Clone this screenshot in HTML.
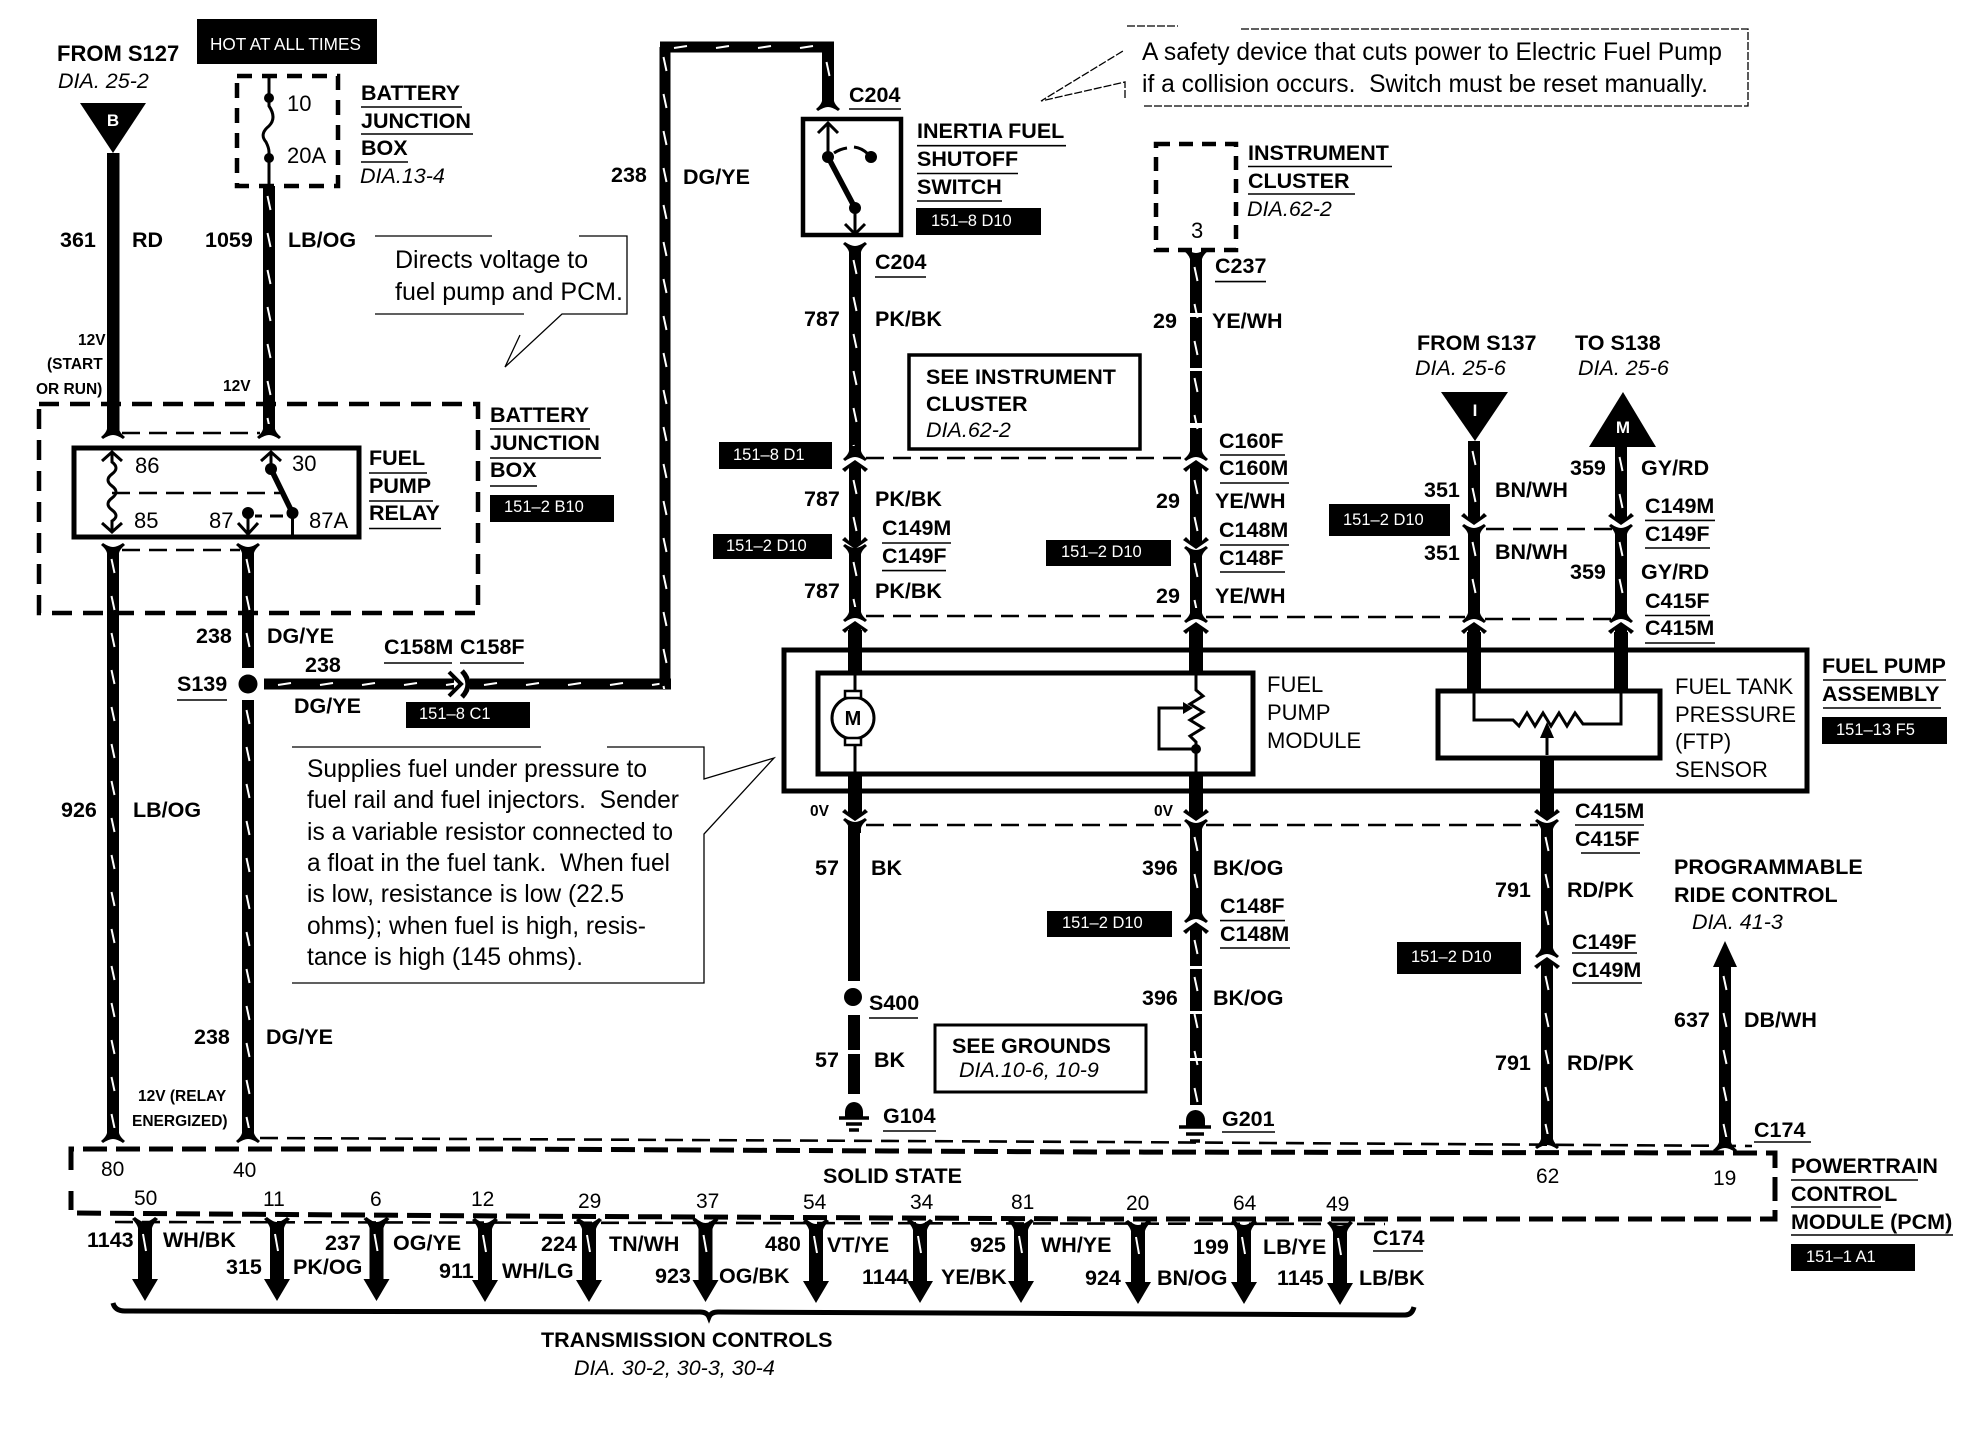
<!DOCTYPE html>
<html><head><meta charset="utf-8"><title>Fuel pump wiring diagram</title>
<style>
html,body{margin:0;padding:0;background:#fff}
svg{display:block}
text{font-family:"Liberation Sans",sans-serif;fill:#000;white-space:pre}
.b{font-weight:bold;font-size:21.5px}
.r{font-size:22px}
.n{font-size:21px}
.i{font-style:italic;font-size:21.5px}
.c{font-size:25px}
.s{font-weight:bold;font-size:15.5px}
.t{font-size:16.5px;fill:#fff}
.h{font-size:17.2px;fill:#fff}
.w{font-weight:bold;font-size:17px;fill:#fff;text-anchor:middle}
.u{fill:none;stroke:#000;stroke-width:1.6}
.th{fill:none;stroke:#000;stroke-width:1.3}
.d1{fill:none;stroke:#000;stroke-width:4.5;stroke-dasharray:20 11}
.d2{fill:none;stroke:#000;stroke-width:2.6;stroke-dasharray:18 9}
.l{fill:none;stroke:#000;stroke-width:3}
.bx{fill:none;stroke:#000;stroke-width:5}
</style></head><body>
<svg xmlns="http://www.w3.org/2000/svg" width="1972" height="1440" viewBox="0 0 1972 1440">
<defs>
<pattern id="v" width="14" height="37" patternUnits="userSpaceOnUse" x="-7" y="0"><rect width="14" height="37" fill="#000"/><line x1="5.5" y1="10" x2="8.5" y2="24" stroke="#fff" stroke-width="2"/></pattern>
<pattern id="z" width="42" height="14" patternUnits="userSpaceOnUse" x="0" y="-7"><rect width="42" height="14" fill="#000"/><line x1="14" y1="8" x2="27" y2="6" stroke="#fff" stroke-width="2"/></pattern>
<path id="f" d="M-6,-8H6V-3Q7,1 12,5L10,7Q4,3 0,3Q-4,3 -10,7L-12,5Q-7,1 -6,-3Z"/>
<path id="a" d="M0,0L13,9L10,12L6,8V14H-6V8L-10,12L-13,9Z"/>
<g id="ar"><path d="M-13,0L-10,-2Q-4,3 0,3Q4,3 10,-2L13,0Q8,5 7,9V60H13L0,82L-13,60H-7V9Q-8,5 -13,0Z"/><line x1="-2" y1="15" x2="1" y2="32" stroke="#fff" stroke-width="2"/></g>
</defs>

<!-- tags -->
<rect x="197" y="19" width="180" height="45"/>
<text class="h" x="210" y="50">HOT AT ALL TIMES</text>
<rect x="490" y="495" width="124" height="27"/><text class="t" x="504" y="512">151–2 B10</text>
<rect x="406" y="702" width="124" height="26"/><text class="t" x="419" y="719">151–8 C1</text>
<rect x="916" y="208" width="125" height="27"/><text class="t" x="931" y="226">151–8 D10</text>
<rect x="719" y="442" width="113" height="27"/><text class="t" x="733" y="460">151–8 D1</text>
<rect x="713" y="534" width="119" height="25"/><text class="t" x="726" y="551">151–2 D10</text>
<rect x="1046" y="540" width="125" height="26"/><text class="t" x="1061" y="557">151–2 D10</text>
<rect x="1047" y="911" width="125" height="26"/><text class="t" x="1062" y="928">151–2 D10</text>
<rect x="1397" y="942" width="124" height="32"/><text class="t" x="1411" y="962">151–2 D10</text>
<rect x="1329" y="504" width="121" height="32"/><text class="t" x="1343" y="525">151–2 D10</text>
<rect x="1822" y="717" width="125" height="27"/><text class="t" x="1836" y="735">151–13 F5</text>
<rect x="1791" y="1244" width="124" height="27"/><text class="t" x="1806" y="1262">151–1 A1</text>

<!-- triangles -->
<polygon points="80,103 146,103 113,153"/><text class="w" x="113" y="126">B</text>
<polygon points="1441,392 1508,392 1475,441"/><text class="w" x="1475" y="416">I</text>
<polygon points="1623,392 1589,447 1656,447"/><text class="w" x="1623" y="433">M</text>

<!-- fuse box -->
<rect class="d1" x="237" y="76" width="101" height="110" style="stroke-width:4.5;stroke-dasharray:15 10"/>
<path class="l" d="M269,76V106Q277,118 269,126Q259,134 266,142Q269,148 269,152V186"/>
<circle cx="269" cy="98" r="5"/><circle cx="269" cy="158" r="5"/>

<!-- solid / ticked wires -->
<rect x="107" y="153" width="12.5" height="277"/>
<g transform="translate(269,186)"><rect x="-6" width="12" height="244" fill="url(#v)"/></g>
<use href="#f" transform="translate(113,432)"/><use href="#f" transform="translate(269,432)"/>
<g transform="translate(113,549)"><rect x="-6" width="12" height="588" fill="url(#v)"/></g>
<g transform="translate(248,549)"><rect x="-6" width="12" height="119" fill="url(#v)"/></g>
<g transform="translate(248,700)"><rect x="-6" width="12" height="437" fill="url(#v)"/></g>
<use href="#f" transform="translate(113,550) scale(1,-1)"/><use href="#f" transform="translate(248,550) scale(1,-1)"/>
<use href="#f" transform="translate(113,1136)"/><use href="#f" transform="translate(248,1136)"/>
<circle cx="248" cy="684" r="9.5"/>
<g transform="translate(264,684)"><rect width="190" height="11" y="-5.5" fill="url(#z)"/></g>
<path d="M449,672L461,684L449,696" fill="none" stroke="#000" stroke-width="4"/>
<path d="M462,671Q474,684 462,697" fill="none" stroke="#000" stroke-width="5"/>
<g transform="translate(470,684)"><rect width="201" height="11" y="-5.5" fill="url(#z)"/></g>
<g transform="translate(665,47)"><rect x="-5.5" width="11" height="642" fill="url(#v)"/></g>
<g transform="translate(660,47)"><rect width="174" height="11" y="-5.5" fill="url(#z)"/></g>
<g transform="translate(828,52)"><rect x="-6" width="12" height="50" fill="url(#v)"/></g>
<use href="#f" transform="translate(828,104)"/>

<!-- 787 column -->
<use href="#f" transform="translate(855,249) scale(1,-1)"/>
<g transform="translate(855,250)"><rect x="-6" width="12" height="202" fill="url(#v)"/></g>
<use href="#f" transform="translate(855,454)"/>
<use href="#a" transform="translate(855,460)"/>
<g transform="translate(855,470)"><rect x="-6" width="12" height="72" fill="url(#v)"/></g>
<use href="#a" transform="translate(855,549) scale(1,-1)"/>
<use href="#f" transform="translate(855,551) scale(1,-1)"/>
<g transform="translate(855,552)"><rect x="-6" width="12" height="61" fill="url(#v)"/></g>
<use href="#f" transform="translate(855,615)"/>
<use href="#a" transform="translate(855,621)"/>
<rect x="848" y="630" width="14" height="44"/>
<rect x="848" y="774" width="14" height="42"/>
<use href="#a" transform="translate(855,821) scale(1,-1)"/>
<use href="#f" transform="translate(855,825) scale(1,-1)"/>
<rect x="848" y="826" width="12" height="155"/>
<circle cx="853" cy="997" r="9"/>
<rect x="848" y="1015" width="12" height="35"/><rect x="848" y="1054" width="12" height="40"/>

<!-- 29/396 column -->
<use href="#f" transform="translate(1196,256) scale(1,-1)"/>
<g transform="translate(1196,257)"><rect x="-6" width="12" height="195" fill="url(#v)"/></g>
<rect x="1188" y="313" width="16" height="4" fill="#fff"/><rect x="1188" y="368" width="16" height="3" fill="#fff"/><rect x="1188" y="423" width="16" height="5" fill="#fff"/>
<use href="#f" transform="translate(1196,454)"/>
<use href="#a" transform="translate(1196,460)"/>
<g transform="translate(1196,470)"><rect x="-6" width="12" height="72" fill="url(#v)"/></g>
<use href="#a" transform="translate(1196,549) scale(1,-1)"/>
<use href="#f" transform="translate(1196,553) scale(1,-1)"/>
<g transform="translate(1196,553)"><rect x="-6" width="12" height="61" fill="url(#v)"/></g>
<use href="#f" transform="translate(1196,616)"/>
<use href="#a" transform="translate(1196,622)"/>
<rect x="1189" y="630" width="14" height="44"/>
<rect x="1189" y="774" width="14" height="42"/>
<use href="#a" transform="translate(1196,821) scale(1,-1)"/>
<use href="#f" transform="translate(1196,826) scale(1,-1)"/>
<g transform="translate(1196,827)"><rect x="-6" width="12" height="88" fill="url(#v)"/></g>
<use href="#f" transform="translate(1196,916)"/>
<use href="#a" transform="translate(1196,922)"/>
<g transform="translate(1196,930)"><rect x="-6" width="12" height="175" fill="url(#v)"/></g>
<rect x="1188" y="966" width="16" height="3" fill="#fff"/><rect x="1188" y="1011" width="16" height="3" fill="#fff"/><rect x="1188" y="1058" width="16" height="3" fill="#fff"/>

<!-- 351/359 -->
<g transform="translate(1474,441)"><rect x="-6" width="12" height="77" fill="url(#v)"/></g>
<use href="#a" transform="translate(1474,525) scale(1,-1)"/>
<use href="#f" transform="translate(1474,531) scale(1,-1)"/>
<g transform="translate(1474,532)"><rect x="-6" width="12" height="82" fill="url(#v)"/></g>
<use href="#f" transform="translate(1474,616)"/>
<use href="#a" transform="translate(1474,622)"/>
<rect x="1467" y="632" width="14" height="60"/>
<g transform="translate(1621,447)"><rect x="-6" width="12" height="71" fill="url(#v)"/></g>
<use href="#a" transform="translate(1621,525) scale(1,-1)"/>
<use href="#f" transform="translate(1621,531) scale(1,-1)"/>
<g transform="translate(1621,532)"><rect x="-6" width="12" height="82" fill="url(#v)"/></g>
<use href="#f" transform="translate(1621,616)"/>
<use href="#a" transform="translate(1621,622)"/>
<rect x="1614" y="632" width="14" height="60"/>

<!-- 791 -->
<rect x="1540" y="756" width="14" height="60"/>
<use href="#a" transform="translate(1547,821) scale(1,-1)"/>
<use href="#f" transform="translate(1547,826) scale(1,-1)"/>
<g transform="translate(1547,827)"><rect x="-6" width="12" height="122" fill="url(#v)"/></g>
<use href="#f" transform="translate(1547,951)"/>
<use href="#a" transform="translate(1547,957)"/>
<g transform="translate(1547,966)"><rect x="-6" width="12" height="175" fill="url(#v)"/></g>
<use href="#f" transform="translate(1547,1142)"/>

<!-- 637 -->
<polygon points="1725,941 1737,967 1713,967"/>
<g transform="translate(1725,966)"><rect x="-6" width="12" height="178" fill="url(#v)"/></g>
<use href="#f" transform="translate(1725,1145)"/>

<!-- dashed boundaries -->
<rect class="d1" x="39" y="404" width="439" height="209"/>
<path class="d2" d="M122,433H260"/>
<path class="d2" d="M122,550H240"/>
<path class="d2" d="M866,458H1186"/>
<path class="d2" d="M866,616H1186M1206,617H1465M1485,619H1612"/>
<path class="d2" d="M1486,529H1612"/>
<path class="d2" d="M866,825H1186M1206,825H1538"/>
<path class="d2" d="M260,1138L1110,1142L1752,1146"/>
<path class="d1" d="M71,1170V1149H500L1100,1152L1775,1153V1219L1100,1219L500,1216L71,1213V1191" style="stroke-width:5;stroke-dasharray:24 9"/>
<path class="d2" d="M115,1222L1385,1224"/>

<!-- relay -->
<rect class="bx" x="74" y="448" width="285" height="89"/>
<path class="l" d="M112,453V462Q120,468 112,474Q104,480 112,486Q120,492 112,498Q104,504 112,510Q120,516 112,521V532"/>
<path class="l" d="M102,461L112,452L122,461M102,523L112,532L122,523"/>
<path class="d2" d="M112,493H280"/>
<path class="l" d="M261,461L271,452L281,461M271,452V469"/>
<circle cx="271" cy="469" r="6"/><path d="M271,469L292,512" stroke="#000" stroke-width="5.5"/>
<circle cx="292.5" cy="513" r="6"/><path class="l" d="M292.5,513V536"/>
<circle cx="248" cy="513" r="6"/><path class="l" d="M248,513V534M238,523L248,534L258,523"/>
<path d="M255,516H262M270,516H283" stroke="#000" stroke-width="3"/>

<!-- inertia switch -->
<rect class="bx" x="803" y="119" width="98" height="116" style="stroke-width:4.5"/>
<path class="l" d="M818,133L828,123L838,133M828,123V157"/>
<circle cx="828" cy="157" r="6"/><circle cx="871" cy="157" r="6"/>
<path class="l" d="M834,153Q840,149 847,148M854,147Q862,148 868,154"/>
<path d="M828,157L855,208" stroke="#000" stroke-width="5.5"/>
<circle cx="855" cy="208" r="6"/><path class="l" d="M855,208V234M845,224L855,234L865,224"/>

<!-- instrument dashed -->
<rect class="d1" x="1156" y="144" width="80" height="106" style="stroke-dasharray:14 9"/>

<!-- fuel pump assembly -->
<rect class="bx" x="784" y="650" width="1023" height="141"/>
<rect class="bx" x="818" y="673" width="435" height="101"/>
<path class="l" d="M855,675V698M855,738V774"/>
<circle cx="853" cy="718" r="21" fill="#fff" stroke="#000" stroke-width="3"/>
<rect x="845" y="691" width="16" height="7" fill="#fff" stroke="#000" stroke-width="2.5"/>
<rect x="845" y="738" width="16" height="7" fill="#fff" stroke="#000" stroke-width="2.5"/>
<text x="853" y="725" text-anchor="middle" style="font-weight:bold;font-size:20px">M</text>
<path class="l" d="M1196,675V690L1203,696L1190,704L1203,712L1190,720L1203,728L1190,736L1196,742V774"/>
<circle cx="1196" cy="749" r="5"/>
<path class="l" d="M1196,749H1159V708H1185"/><path d="M1183,702L1193,708L1183,714Z"/>

<!-- sensor -->
<rect class="bx" x="1438" y="691" width="222" height="67"/>
<path class="l" d="M1474,691V720H1513L1519,726L1527,713L1535,726L1543,713L1551,726L1559,713L1567,726L1575,713L1583,724H1621V691"/>
<path class="l" d="M1547,755V735"/><path d="M1547,722L1554,738H1540Z"/>

<!-- grounds -->
<path d="M845,1118V1112A9,10 0 0 1 863,1112V1118Z"/><path d="M839,1118H869M846,1124H862M849,1130H859" fill="none" stroke="#000" stroke-width="3.5"/>
<path d="M1186,1127V1120A9.5,10 0 0 1 1205,1120V1127Z"/><path d="M1179,1127H1211M1186,1134H1204M1190,1141H1200" fill="none" stroke="#000" stroke-width="3.5"/>

<!-- note boxes -->
<rect x="909" y="355" width="231" height="94" fill="none" stroke="#000" stroke-width="3.5"/>
<rect x="935" y="1025" width="211" height="67" fill="none" stroke="#000" stroke-width="3"/>

<!-- callouts -->
<path class="th" d="M375,236H492M579,236H627V314H562L505,367L520,335M524,314H375"/>
<path class="th" d="M292,747H541M607,747H704V779L774,758L704,834V983H292"/>
<path class="th" d="M1127,26H1178M1241,29H1748V106H1142M1125,98V82L1041,101L1123,51" stroke-dasharray="8 2"/>

<!-- bottom arrows -->
<use href="#ar" transform="translate(145,1219)"/><use href="#ar" transform="translate(277,1219)"/>
<use href="#ar" transform="translate(376.5,1219)"/><use href="#ar" transform="translate(485,1220)"/>
<use href="#ar" transform="translate(589,1220)"/><use href="#ar" transform="translate(705.5,1220)"/>
<use href="#ar" transform="translate(816,1221)"/><use href="#ar" transform="translate(920,1221)"/>
<use href="#ar" transform="translate(1021,1221)"/><use href="#ar" transform="translate(1138,1222)"/>
<use href="#ar" transform="translate(1244,1222)"/><use href="#ar" transform="translate(1340,1223)"/>
<path d="M113,1303Q115,1311 125,1311L700,1312Q707,1312 709,1317Q711,1312 718,1312L1405,1315Q1412,1315 1414,1307" fill="none" stroke="#000" stroke-width="5"/>

<!-- underlines -->
<path class="u" d="M361,107H462M361,134H473M361,162H408M490,429H590M490,458H601M490,486H537M369,473H427M369,501H433M369,528.5H441
M177,700H227M384,663H452M460,663H524M849,109H901M917,145.7H1066M917,173.5H1018M917,201H1002M875,277H926M882,543H951M882,570.6H946
M1248,166.5H1392M1248,194H1355M1215,281.6H1266M1220,455H1285M1220,483H1289M1220,545H1289M1220,572H1285
M1645,520.4H1715M1645,548H1710M1645,615.5H1710M1645,643H1715M1575,825H1644M1581,853H1640M1572,953H1637M1572,983H1642
M1823,680H1946M1823,708H1941M869,1018H918M883,1131H936M1222,1132H1275M1220,920.6H1285M1220,948H1290M1754,1142H1811
M1791,1180H1918M1791,1207H1881M1791,1235H1953M1373,1251H1423"/>

<!-- labels left -->
<text class="b" x="57" y="61" style="font-size:22px">FROM S127</text><text class="i" x="58" y="88">DIA. 25-2</text>
<text class="r" x="287" y="111">10</text><text class="r" x="287" y="163">20A</text>
<text class="b" x="361" y="100">BATTERY</text><text class="b" x="361" y="128">JUNCTION</text><text class="b" x="361" y="155">BOX</text><text class="i" x="360" y="183">DIA.13-4</text>
<text class="b" x="60" y="247">361</text><text class="b" x="132" y="247">RD</text><text class="b" x="205" y="247">1059</text><text class="b" x="288" y="247">LB/OG</text>
<text class="b" x="611" y="182">238</text><text class="b" x="683" y="184">DG/YE</text>
<text class="c" x="395" y="268">Directs voltage to</text><text class="c" x="395" y="300">fuel pump and PCM.</text>
<text class="s" x="78" y="345">12V</text><text class="s" x="47" y="369">(START</text><text class="s" x="36" y="394">OR RUN)</text><text class="s" x="223" y="391">12V</text>
<text class="r" x="135" y="473">86</text><text class="r" x="292" y="471">30</text><text class="r" x="134" y="528">85</text><text class="r" x="209" y="528">87</text><text class="r" x="309" y="528">87A</text>
<text class="b" x="369" y="465">FUEL</text><text class="b" x="369" y="493">PUMP</text><text class="b" x="369" y="520">RELAY</text>
<text class="b" x="490" y="422">BATTERY</text><text class="b" x="490" y="450">JUNCTION</text><text class="b" x="490" y="477">BOX</text>
<text class="b" x="196" y="643">238</text><text class="b" x="267" y="643">DG/YE</text>
<text class="b" x="177" y="691">S139</text><text class="b" x="305" y="672">238</text><text class="b" x="294" y="713">DG/YE</text>
<text class="b" x="384" y="654">C158M</text><text class="b" x="460" y="654">C158F</text>
<text class="b" x="61" y="817">926</text><text class="b" x="133" y="817">LB/OG</text>
<text class="b" x="194" y="1044">238</text><text class="b" x="266" y="1044">DG/YE</text>
<text class="s" x="138" y="1101">12V (RELAY</text><text class="s" x="132" y="1126">ENERGIZED)</text>
<text class="c" x="307" y="777" textLength="340" lengthAdjust="spacingAndGlyphs">Supplies fuel under pressure to</text>
<text class="c" x="307" y="808" textLength="372" lengthAdjust="spacingAndGlyphs">fuel rail and fuel injectors.  Sender</text>
<text class="c" x="307" y="840" textLength="366" lengthAdjust="spacingAndGlyphs">is a variable resistor connected to</text>
<text class="c" x="307" y="871" textLength="363" lengthAdjust="spacingAndGlyphs">a float in the fuel tank.  When fuel</text>
<text class="c" x="307" y="902" textLength="317" lengthAdjust="spacingAndGlyphs">is low, resistance is low (22.5</text>
<text class="c" x="307" y="934" textLength="339" lengthAdjust="spacingAndGlyphs">ohms); when fuel is high, resis-</text>
<text class="c" x="307" y="965" textLength="276" lengthAdjust="spacingAndGlyphs">tance is high (145 ohms).</text>

<!-- labels middle -->
<text class="b" x="849" y="102">C204</text>
<text class="b" x="917" y="138">INERTIA FUEL</text><text class="b" x="917" y="166">SHUTOFF</text><text class="b" x="917" y="194">SWITCH</text>
<text class="b" x="875" y="269">C204</text>
<text class="b" x="804" y="326">787</text><text class="b" x="875" y="326">PK/BK</text>
<text class="b" x="926" y="384">SEE INSTRUMENT</text><text class="b" x="926" y="411">CLUSTER</text><text class="i" x="926" y="437">DIA.62-2</text>
<text class="b" x="804" y="506">787</text><text class="b" x="875" y="506">PK/BK</text>
<text class="b" x="882" y="535">C149M</text><text class="b" x="882" y="563">C149F</text>
<text class="b" x="804" y="598">787</text><text class="b" x="875" y="598">PK/BK</text>
<text class="r" x="1191" y="238">3</text>
<text class="b" x="1248" y="160">INSTRUMENT</text><text class="b" x="1248" y="188">CLUSTER</text><text class="i" x="1247" y="216">DIA.62-2</text>
<text class="b" x="1215" y="273">C237</text>
<text class="b" x="1153" y="328">29</text><text class="b" x="1212" y="328">YE/WH</text>
<text class="b" x="1219" y="448">C160F</text><text class="b" x="1219" y="475">C160M</text>
<text class="b" x="1156" y="508">29</text><text class="b" x="1215" y="508">YE/WH</text>
<text class="b" x="1219" y="537">C148M</text><text class="b" x="1219" y="565">C148F</text>
<text class="b" x="1156" y="603">29</text><text class="b" x="1215" y="603">YE/WH</text>
<text class="c" x="1142" y="60" textLength="580" lengthAdjust="spacingAndGlyphs">A safety device that cuts power to Electric Fuel Pump</text>
<text class="c" x="1142" y="92" textLength="566" lengthAdjust="spacingAndGlyphs">if a collision occurs.  Switch must be reset manually.</text>

<!-- labels right -->
<text class="b" x="1417" y="350">FROM S137</text><text class="i" x="1415" y="375">DIA. 25-6</text>
<text class="b" x="1575" y="350">TO S138</text><text class="i" x="1578" y="375">DIA. 25-6</text>
<text class="b" x="1424" y="497">351</text><text class="b" x="1495" y="497">BN/WH</text>
<text class="b" x="1570" y="475">359</text><text class="b" x="1641" y="475">GY/RD</text>
<text class="b" x="1645" y="513">C149M</text><text class="b" x="1645" y="541">C149F</text>
<text class="b" x="1424" y="560">351</text><text class="b" x="1495" y="559">BN/WH</text>
<text class="b" x="1570" y="579">359</text><text class="b" x="1641" y="579">GY/RD</text>
<text class="b" x="1645" y="608">C415F</text><text class="b" x="1645" y="635">C415M</text>
<text class="r" x="1267" y="692">FUEL</text><text class="r" x="1267" y="720">PUMP</text><text class="r" x="1267" y="748">MODULE</text>
<text class="r" x="1675" y="694">FUEL TANK</text><text class="r" x="1675" y="722">PRESSURE</text><text class="r" x="1675" y="749">(FTP)</text><text class="r" x="1675" y="777">SENSOR</text>
<text class="b" x="1822" y="673">FUEL PUMP</text><text class="b" x="1822" y="701">ASSEMBLY</text>
<text class="b" x="1575" y="818">C415M</text><text class="b" x="1575" y="846">C415F</text>
<text class="b" x="1674" y="874">PROGRAMMABLE</text><text class="b" x="1674" y="902">RIDE CONTROL</text><text class="i" x="1692" y="929">DIA. 41-3</text>
<text class="b" x="1495" y="897">791</text><text class="b" x="1567" y="897">RD/PK</text>
<text class="b" x="1572" y="949">C149F</text><text class="b" x="1572" y="977">C149M</text>
<text class="b" x="1495" y="1070">791</text><text class="b" x="1567" y="1070">RD/PK</text>
<text class="b" x="1674" y="1027">637</text><text class="b" x="1744" y="1027">DB/WH</text>
<text class="b" x="1754" y="1137">C174</text>
<text class="b" x="1791" y="1173">POWERTRAIN</text><text class="b" x="1791" y="1201">CONTROL</text><text class="b" x="1791" y="1229">MODULE (PCM)</text>

<!-- lower mid -->
<text class="s" x="810" y="816">0V</text><text class="s" x="1154" y="816">0V</text>
<text class="b" x="815" y="875">57</text><text class="b" x="871" y="875">BK</text>
<text class="b" x="1142" y="875">396</text><text class="b" x="1213" y="875">BK/OG</text>
<text class="b" x="1220" y="913">C148F</text><text class="b" x="1220" y="941">C148M</text>
<text class="b" x="1142" y="1005">396</text><text class="b" x="1213" y="1005">BK/OG</text>
<text class="b" x="869" y="1010">S400</text>
<text class="b" x="815" y="1067">57</text><text class="b" x="874" y="1067">BK</text>
<text class="b" x="952" y="1053">SEE GROUNDS</text><text class="i" x="959" y="1077">DIA.10-6, 10-9</text>
<text class="b" x="883" y="1123">G104</text><text class="b" x="1222" y="1126">G201</text>

<!-- PCM -->
<text class="n" x="101" y="1176">80</text><text class="n" x="233" y="1177">40</text>
<text class="b" x="823" y="1183">SOLID STATE</text>
<text class="n" x="134" y="1205">50</text><text class="n" x="263" y="1206">11</text><text class="n" x="370" y="1206">6</text><text class="n" x="471" y="1206">12</text><text class="n" x="578" y="1208">29</text><text class="n" x="696" y="1208">37</text>
<text class="n" x="803" y="1209">54</text><text class="n" x="910" y="1209">34</text><text class="n" x="1011" y="1209">81</text><text class="n" x="1126" y="1210">20</text><text class="n" x="1233" y="1210">64</text><text class="n" x="1326" y="1211">49</text>
<text class="n" x="1536" y="1183">62</text><text class="n" x="1713" y="1185">19</text>

<text class="b" x="87" y="1247">1143</text><text class="b" x="163" y="1247">WH/BK</text>
<text class="b" x="226" y="1274">315</text><text class="b" x="293" y="1274">PK/OG</text>
<text class="b" x="325" y="1250">237</text><text class="b" x="393" y="1250">OG/YE</text>
<text class="b" x="439" y="1278">911</text><text class="b" x="502" y="1278">WH/LG</text>
<text class="b" x="541" y="1251">224</text><text class="b" x="609" y="1251">TN/WH</text>
<text class="b" x="655" y="1283">923</text><text class="b" x="719" y="1283">OG/BK</text>
<text class="b" x="765" y="1251">480</text><text class="b" x="827" y="1252">VT/YE</text>
<text class="b" x="862" y="1284">1144</text><text class="b" x="941" y="1284">YE/BK</text>
<text class="b" x="970" y="1252">925</text><text class="b" x="1041" y="1252">WH/YE</text>
<text class="b" x="1085" y="1285">924</text><text class="b" x="1157" y="1285">BN/OG</text>
<text class="b" x="1193" y="1254">199</text><text class="b" x="1263" y="1254">LB/YE</text>
<text class="b" x="1277" y="1285">1145</text><text class="b" x="1359" y="1285">LB/BK</text>
<text class="b" x="1373" y="1245">C174</text>
<text class="b" x="541" y="1347">TRANSMISSION CONTROLS</text>
<text class="i" x="574" y="1375">DIA. 30-2, 30-3, 30-4</text>
</svg>
</body></html>
